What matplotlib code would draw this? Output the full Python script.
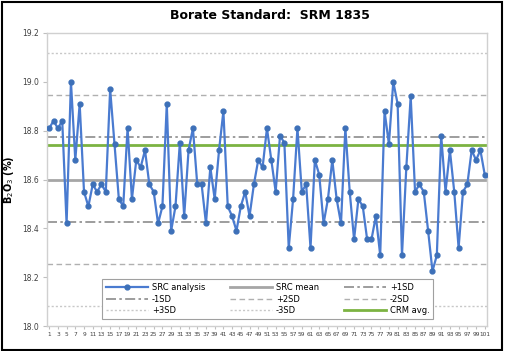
import matplotlib
matplotlib.use("Agg")
import matplotlib.pyplot as plt
from matplotlib.patches import Rectangle

# B2O3 results for the borate standard
run_no = list(range(1, 102))
b2o3 = [
    18.81, 18.84, 18.81, 18.84, 18.42, 19.00, 18.68, 18.91, 18.55, 18.49,
    18.58, 18.55, 18.58, 18.55, 18.97, 18.745, 18.52, 18.49, 18.81, 18.52,
    18.68, 18.65, 18.72, 18.58, 18.55, 18.42, 18.49, 18.91, 18.39, 18.49,
    18.75, 18.45, 18.72, 18.81, 18.58, 18.58, 18.42, 18.65, 18.52, 18.72,
    18.88, 18.49, 18.45, 18.39, 18.49, 18.55, 18.45, 18.58, 18.68, 18.65,
    18.81, 18.68, 18.55, 18.78, 18.75, 18.32, 18.52, 18.81, 18.55, 18.58,
    18.32, 18.68, 18.62, 18.42, 18.52, 18.68, 18.52, 18.42, 18.81, 18.55,
    18.355, 18.52, 18.49, 18.355, 18.355, 18.45, 18.29, 18.88, 18.745, 19.00,
    18.91, 18.29, 18.65, 18.94, 18.55, 18.58, 18.55, 18.39, 18.225, 18.29,
    18.78, 18.55, 18.72, 18.55, 18.32, 18.55, 18.58, 18.72, 18.68, 18.72,
    18.62,
]
src_mean = 18.60
src_sd = 0.173
crm_avg = 18.74
x_ticks = list(range(1, 102, 2))
y_ticks = [18.0, 18.2, 18.4, 18.6, 18.8, 19.0, 19.2]

fig = plt.figure(figsize=(5.08, 3.51), dpi=100)
ax = fig.add_axes([0.0925, 0.071, 0.866, 0.835])

ref_lines = [
    ("+1SD", src_mean + src_sd, dict(color="#8c8c8c", ls=(0, (6, 2, 1.5, 2)), lw=1.2)),
    ("-1SD", src_mean - src_sd, dict(color="#8c8c8c", ls=(0, (6, 2, 1.5, 2)), lw=1.2)),
    ("+2SD", src_mean + 2 * src_sd, dict(color="#b0b0b0", ls=(0, (4, 2.5)), lw=1.0)),
    ("-2SD", src_mean - 2 * src_sd, dict(color="#b0b0b0", ls=(0, (4, 2.5)), lw=1.0)),
    ("+3SD", src_mean + 3 * src_sd, dict(color="#c8c8c8", ls=(0, (1.5, 1.5)), lw=1.0)),
    ("-3SD", src_mean - 3 * src_sd, dict(color="#c8c8c8", ls=(0, (1.5, 1.5)), lw=1.0)),
]
handles = {}
for name, val, st in ref_lines:
    handles[name] = ax.axhline(val, **st, zorder=1)
handles["SRC mean"] = ax.axhline(src_mean, color="#a6a6a6", lw=2.0, zorder=1)
handles["CRM avg."] = ax.axhline(crm_avg, color="#7cb342", lw=2.0, zorder=2)
handles["SRC analysis"], = ax.plot(run_no, b2o3, color="#4a7bd0", lw=1.6,
                                   marker="o", ms=3.5, mfc="#3d70b8", mec="#3d70b8", zorder=3)

ax.set_xlim(0.5, 101.5)
ax.set_ylim(18.0, 19.2)
ax.set_xticks(x_ticks)
ax.set_xticks(run_no, minor=True)
ax.set_yticks(y_ticks)
ax.set_yticklabels([f"{v:.1f}" for v in y_ticks])
ax.tick_params(axis="x", labelsize=4.2, length=2, color="#bfbfbf", pad=2, labelcolor="#404040")
ax.tick_params(axis="x", which="minor", length=0)
ax.tick_params(axis="y", labelsize=5.5, length=3, color="#bfbfbf", pad=3, labelcolor="#404040")
for s in ax.spines.values():
    s.set_color("#d0d0d0")
    s.set_linewidth(1.0)
ax.set_ylabel("B$_2$O$_3$ (%)", fontsize=7, fontweight="bold", labelpad=4)
fig.text(0.532, 0.955, "Borate Standard:  SRM 1835", ha="center", va="center",
         fontsize=9, fontweight="bold")

# column-major order so the legend reads row by row like the original
order = ["SRC analysis", "-1SD", "+3SD",
         "SRC mean", "+2SD", "-3SD",
         "+1SD", "-2SD", "CRM avg."]
leg = ax.legend([handles[k] for k in order], order, ncol=3, loc="lower center",
                bbox_to_anchor=(0.502, 0.01), fontsize=6, frameon=True, fancybox=False,
                handlelength=5, handletextpad=0.5, columnspacing=3.0, labelspacing=0.3,
                borderpad=0.45, numpoints=1,
                edgecolor="#a0a0a0", framealpha=1)
leg.get_frame().set_linewidth(0.8)

fig.patches.append(Rectangle((0.003, 0.004), 0.985, 0.99, transform=fig.transFigure,
                             fill=False, edgecolor="black", lw=1.5))

fig.savefig("out.png", dpi=100)
